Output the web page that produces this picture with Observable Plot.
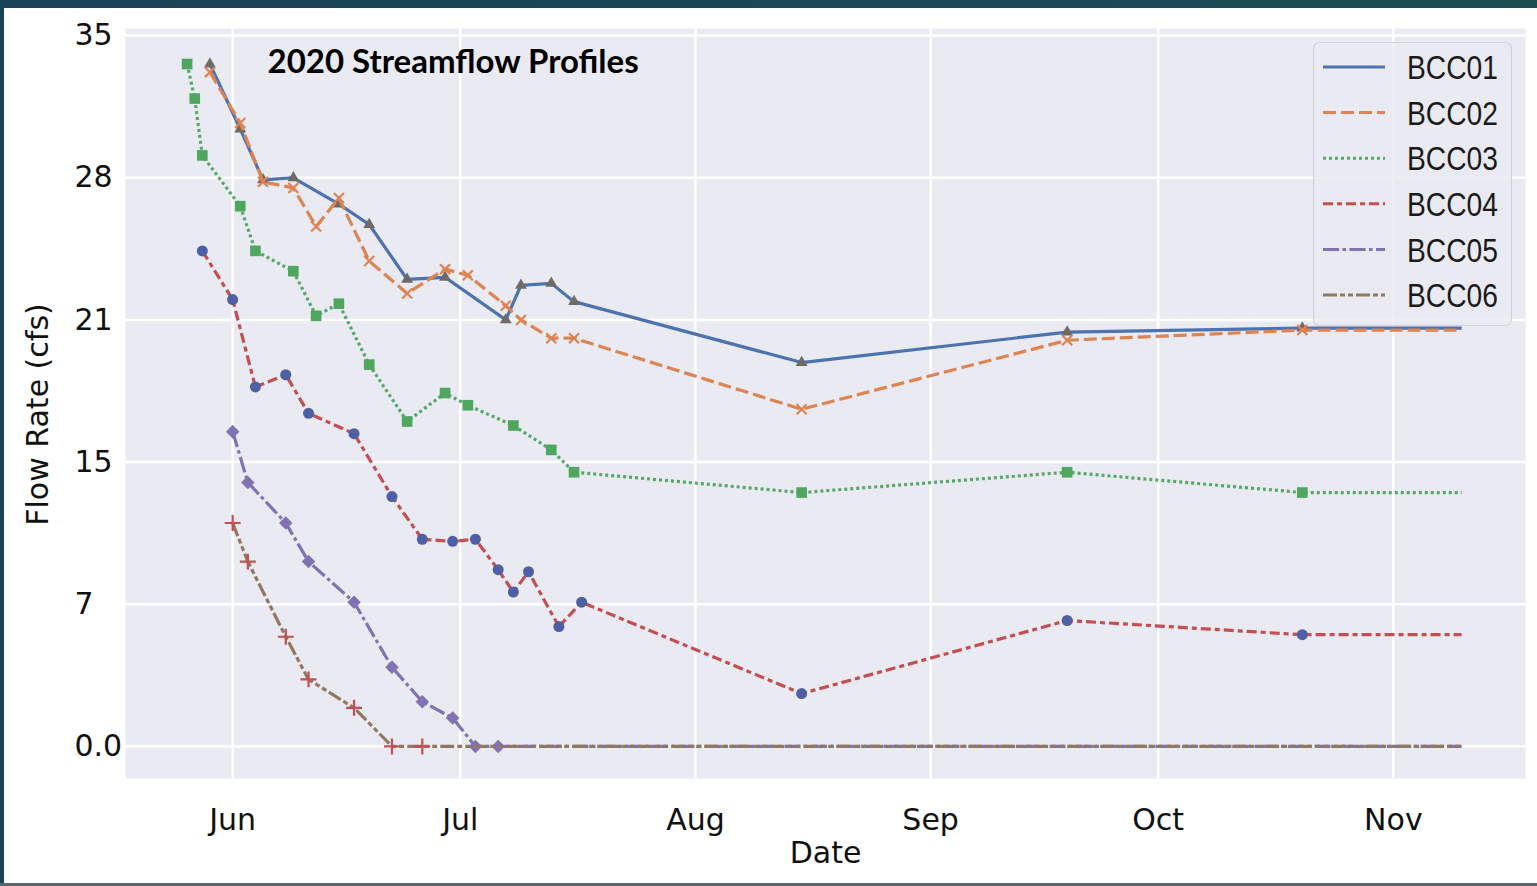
<!DOCTYPE html>
<html>
<head>
<meta charset="utf-8">
<script src="https://cdn.jsdelivr.net/npm/d3@7"></script>
<script src="https://cdn.jsdelivr.net/npm/@observablehq/plot@0.6"></script>
<style>
  html, body { margin: 0; padding: 0; background: #ffffff; }
  #wrap { position: relative; width: 1537px; height: 886px; overflow: hidden; background: #ffffff; }
  #chart { position: absolute; left: 0; top: 0; }
  #legend { position: absolute; left: 0; top: 0; pointer-events: none; }
  #topbar { position: absolute; left: 0; top: 0; width: 1537px; height: 8px; background: linear-gradient(90deg, #1b4255, #1d4c53); }
  #leftbar { position: absolute; left: 0; top: 0; width: 4px; height: 886px; background: #1b4255; }
  #bottombar { position: absolute; left: 0; bottom: 0; width: 1537px; height: 3px; background: #56656b; }
</style>
</head>
<body>
<div id="wrap">
  <div id="chart"></div>
  <svg id="legend" width="1537" height="886"></svg>
  <div id="topbar"></div>
  <div id="leftbar"></div>
  <div id="bottombar"></div>
</div>
<script>
// ---------------- data ----------------
const seriesNames = ["BCC01", "BCC02", "BCC03", "BCC04", "BCC05", "BCC06"];

const bcc01Dates = ["2020-05-29","2020-06-02","2020-06-05","2020-06-09","2020-06-15","2020-06-19","2020-06-24","2020-06-29","2020-07-07","2020-07-09","2020-07-13","2020-07-16","2020-08-15","2020-09-19","2020-10-20","2020-11-10"];
const bcc01Values = [33.6, 30.4, 27.9, 28.0, 26.7, 25.7, 23.0, 23.1, 21.0, 22.7, 22.8, 21.9, 18.9, 20.4, 20.6, 20.6];

const bcc02Dates = ["2020-05-29","2020-06-02","2020-06-05","2020-06-09","2020-06-12","2020-06-15","2020-06-19","2020-06-24","2020-06-29","2020-07-02","2020-07-07","2020-07-09","2020-07-13","2020-07-16","2020-08-15","2020-09-19","2020-10-20","2020-11-10"];
const bcc02Values = [33.2, 30.7, 27.8, 27.5, 25.6, 27.0, 23.9, 22.3, 23.5, 23.2, 21.7, 21.0, 20.1, 20.1, 16.6, 20.0, 20.5, 20.5];

const bcc03Dates = ["2020-05-26","2020-05-27","2020-05-28","2020-06-02","2020-06-04","2020-06-09","2020-06-12","2020-06-15","2020-06-19","2020-06-24","2020-06-29","2020-07-02","2020-07-08","2020-07-13","2020-07-16","2020-08-15","2020-09-19","2020-10-20","2020-11-10"];
const bcc03Values = [33.6, 31.9, 29.1, 26.6, 24.4, 23.4, 21.2, 21.8, 18.8, 16.0, 17.4, 16.8, 15.8, 14.6, 13.5, 12.5, 13.5, 12.5, 12.5];

const bcc04Dates = ["2020-05-28","2020-06-01","2020-06-04","2020-06-08","2020-06-11","2020-06-17","2020-06-22","2020-06-26","2020-06-30","2020-07-03","2020-07-06","2020-07-08","2020-07-10","2020-07-14","2020-07-17","2020-08-15","2020-09-19","2020-10-20","2020-11-10"];
const bcc04Values = [24.4, 22.0, 17.7, 18.3, 16.4, 15.4, 12.3, 10.2, 10.1, 10.2, 8.7, 7.6, 8.6, 5.9, 7.1, 2.6, 6.2, 5.5, 5.5];

const bcc05Dates = ["2020-06-01","2020-06-03","2020-06-08","2020-06-11","2020-06-17","2020-06-22","2020-06-26","2020-06-30","2020-07-03","2020-07-06","2020-11-10"];
const bcc05Values = [15.5, 13.0, 11.0, 9.1, 7.1, 3.9, 2.2, 1.4, 0, 0, 0];

const bcc06Dates = ["2020-06-01","2020-06-03","2020-06-08","2020-06-11","2020-06-17","2020-06-22","2020-06-26","2020-11-10"];
const bcc06Values = [11.0, 9.1, 5.4, 3.3, 1.9, 0, 0, 0];

const xTickDates = ["2020-06-01","2020-07-01","2020-08-01","2020-09-01","2020-10-01","2020-11-01"];
const xTickLabels = ["Jun", "Jul", "Aug", "Sep", "Oct", "Nov"];
const yTickValues = [0, 7, 14, 21, 28, 35];
const yTickLabels = ["0.0", "7", "15", "21", "28", "35"];

const titleText = "2020 Streamflow Profiles";
const xLabel = "Date";
const yLabel = "Flow Rate (cfs)";

// ---------------- styles ----------------
const lineColors = ["#4c72b0", "#dd8452", "#55a868", "#c44e52", "#8172b3", "#937860"];
const dashArrays = [null, "13,5", "3,3", "10,4,5,4", "16,3.5,3.5,3.5", "14,3,5,3,5,3"];
const markerSymbols = ["triangle", "times", "square", "circle", "square", "plus"];
const markerRotate = [0, 0, 0, 0, 45, 0];
const markerColors = ["#6e6b66", "#dd8452", "#4fa65f", "#4e5fa5", "#8172b3", "#c44e52"];
const markerRadii = [4.4, 4.6, 6, 5.5, 5.4, 5.2];
const strokeOnly = [false, true, false, false, false, true];

// ---------------- build ----------------
const parse = s => new Date(s + "T00:00:00Z");
const seriesDates = [bcc01Dates, bcc02Dates, bcc03Dates, bcc04Dates, bcc05Dates, bcc06Dates];
const seriesValues = [bcc01Values, bcc02Values, bcc03Values, bcc04Values, bcc05Values, bcc06Values];
const seriesRows = seriesNames.map((name, k) =>
  seriesDates[k].map((d, i) => ({series: name, date: parse(d), value: seriesValues[k][i]}))
);
const xTicks = xTickDates.map(parse);

const seriesMarks = [];
seriesNames.forEach((name, k) => {
  const rows = seriesRows[k];
  seriesMarks.push(Plot.line(rows, {
    x: "date", y: "value",
    stroke: lineColors[k], strokeWidth: 3.2,
    strokeDasharray: dashArrays[k] || undefined,
    strokeLinecap: "butt", strokeLinejoin: "round"
  }));
  // markers on measured points (line's trailing extension carries no marker)
  const pts = rows.slice(0, -1);
  seriesMarks.push(Plot.dot(pts, strokeOnly[k] ? {
    x: "date", y: "value", symbol: markerSymbols[k], r: markerRadii[k],
    fill: "none", stroke: markerColors[k], strokeWidth: 2.2
  } : {
    x: "date", y: "value", symbol: markerSymbols[k], r: markerRadii[k], rotate: markerRotate[k],
    fill: markerColors[k], stroke: "none"
  }));
});

const chart = Plot.plot({
  width: 1537,
  height: 886,
  marginLeft: 125,
  marginRight: 12,
  marginTop: 28,
  marginBottom: 108,
  style: {fontFamily: "'DejaVu Sans', sans-serif", fontSize: "30px", color: "#111", background: "#ffffff"},
  x: {type: "utc", domain: [new Date(Date.UTC(2020, 4, 17, 21)), new Date(Date.UTC(2020, 10, 18, 10))]},
  y: {domain: [-1.58, 35.35]},
  marks: [
    Plot.frame({fill: "#eaeaf2", stroke: "none"}),
    Plot.gridX(xTicks, {stroke: "#ffffff", strokeOpacity: 1, strokeWidth: 2.5}),
    Plot.gridY(yTickValues, {stroke: "#ffffff", strokeOpacity: 1, strokeWidth: 2.5}),
    Plot.axisX(xTicks, {
      tickFormat: d => xTickLabels[xTicks.findIndex(t => +t === +d)],
      tickSize: 0, tickPadding: 30, label: null, fontSize: 30
    }),
    Plot.axisY(yTickValues, {
      tickFormat: d => yTickLabels[yTickValues.indexOf(d)],
      tickSize: 0, tickPadding: 0, textAnchor: "start", dx: -51, label: null, fontSize: 30
    }),
    ...seriesMarks,
    Plot.text([titleText], {
      text: d => d, frameAnchor: "top-left", dx: 142, dy: 21, lineAnchor: "top",
      textAnchor: "start", fontFamily: "Lato, sans-serif", fontWeight: "bold", fontSize: 33, fill: "#000"
    }),
    Plot.text([xLabel], {
      text: d => d, frameAnchor: "bottom", dy: 63, lineAnchor: "top", textAnchor: "middle", fontSize: 30, fill: "#111"
    }),
    Plot.text([yLabel], {
      text: d => d, frameAnchor: "left", rotate: -90, dx: -87, dy: 11,
      textAnchor: "middle", lineAnchor: "middle", fontSize: 30, fill: "#111"
    })
  ]
});
document.getElementById("chart").appendChild(chart);

// ---------------- legend ----------------
const lg = d3.select("#legend");
lg.append("rect")
  .attr("x", 1313.5).attr("y", 42.5).attr("width", 198).attr("height", 283).attr("rx", 6)
  .attr("fill", "#eaeaf2").attr("fill-opacity", 0.8).attr("stroke", "#d2d2d8").attr("stroke-width", 1.2);
seriesNames.forEach((name, k) => {
  const y = 67 + k * 45.6;
  lg.append("line")
    .attr("x1", 1323).attr("x2", 1385).attr("y1", y).attr("y2", y)
    .attr("stroke", lineColors[k]).attr("stroke-width", 3)
    .attr("stroke-dasharray", dashArrays[k] || null);
  lg.append("text")
    .attr("x", 1407).attr("y", y).attr("dy", "0.36em")
    .attr("font-family", "'Liberation Sans', Arial, sans-serif").attr("font-size", 34)
    .attr("textLength", 91).attr("lengthAdjust", "spacingAndGlyphs")
    .attr("fill", "#1a1a1a").text(name);
});
</script>
</body>
</html>
